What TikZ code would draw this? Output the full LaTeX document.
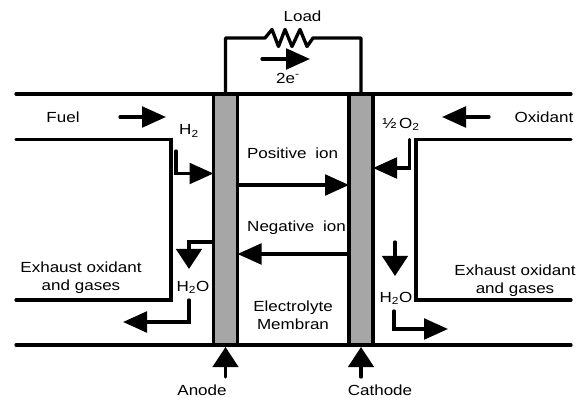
\documentclass[tikz,border=0pt]{standalone}
\usepackage{fontspec}
\setmainfont[FakeStretch=1.16]{Liberation Sans}
\usetikzlibrary{arrows.meta}
\tikzset{
  x=0.75pt,y=-0.75pt,
  wire/.style={line width=2.5pt,line cap=round,line join=miter,black},
  flow/.style={wire,-{Triangle[length=18pt,width=15.5pt]}},
  vflow/.style={wire,-{Triangle[length=15pt,width=19pt]}},
  plate/.style={draw=black,fill=black!35,line width=2.6pt,minimum width=18pt,minimum height=188.25pt,inner sep=0pt,outer sep=0pt,anchor=center},
  lbl/.style={font=\fontsize{11}{13.5}\selectfont,inner sep=0pt,align=center,text=black},
  pt/.style={coordinate}
}
\begin{document}
\begin{tikzpicture}
\useasboundingbox (0,0) rectangle (584,398);
% walls
\coordinate (tl) at (16,94); \coordinate (tr) at (571,94);
\coordinate (bl) at (16,345); \coordinate (br) at (571,345);
\coordinate (fa) at (16,139.5); \coordinate (fb) at (171,139.5); \coordinate (fc) at (171,300); \coordinate (fd) at (16,300);
\coordinate (oa) at (571,139.5); \coordinate (ob) at (416,139.5); \coordinate (oc) at (416,300); \coordinate (od) at (571,300);
\draw[wire] (tl) -- (tr);
\draw[wire] (bl) -- (br);
\draw[wire] (fa) -- (fb) -- (fc) -- (fd);
\draw[wire] (oa) -- (ob) -- (oc) -- (od);
% plates
\node[plate] (anode) at (225.5,219.5) {};
\node[plate] (cathode) at (361,219.5) {};
% load circuit
\coordinate (ra) at (265,38); \coordinate (rb) at (313,38);
\draw[wire,line join=round] (anode.north) -- (225.5,38) -- (ra)
  -- (272,29.5) -- (278.5,46.5) -- (285,29.5) -- (292,46.5) -- (300,29.5) -- (307,46.5) -- (rb)
  -- (361,38) -- (cathode.north);
% labels
\node[lbl] (load) at (302.5,16) {Load};
\node[lbl] (elec) at (288,78) {2e\textsuperscript{-}};
\node[lbl] (fuel) at (63,117) {Fuel};
\node[lbl] (hy) at (189,131) {H\textsubscript{2}};
\node[lbl] (pos) at (292.5,153) {Positive\hspace{3pt} ion};
\node[lbl] (neg) at (296.5,228) {Negative\hspace{3pt} ion};
\node[lbl] (oxy) at (401,124) {½\,O\textsubscript{2}};
\node[lbl] (oxi) at (544,117) {Oxidant};
\node[lbl] (exl) at (81,278) {Exhaust oxidant\\and gases};
\node[lbl] (exr) at (515,281) {Exhaust oxidant\\and gases};
\node[lbl] (wl) at (193,287) {H\textsubscript{2}O};
\node[lbl] (wr) at (396,298) {H\textsubscript{2}O};
\node[lbl] (mem) at (293,315) {Electrolyte\\Membran};
\node[lbl] (an) at (202,390) {Anode};
\node[lbl] (ca) at (380,390) {Cathode};
% arrows
\coordinate (a1) at (262,59); \coordinate (a2) at (310,59);
\draw[flow] (a1) -- (a2);
\coordinate (b1) at (120,117); \coordinate (b2) at (166,117);
\draw[flow] (b1) -- (b2);
\coordinate (c1) at (489,117); \coordinate (c2) at (442,117);
\draw[flow] (c1) -- (c2);
\coordinate (d1) at (176,151); \coordinate (d2) at (176,173.5);
\draw[flow] (d1) -- (d2) -- (anode.west |- d2);
\coordinate (e1) at (409.7,139.5); \coordinate (e2) at (409.7,168);
\draw[flow] (e1) -- (e2) -- (cathode.east |- e2);
\coordinate (f1) at (239,185);
\draw[flow] (anode.east |- f1) -- (cathode.west |- f1);
\coordinate (g1) at (347,254);
\draw[flow] (cathode.west |- g1) -- (anode.east |- g1);
\coordinate (h1) at (213,242); \coordinate (h2) at (189,242); \coordinate (h3) at (189,269);
\draw[vflow] (h1) -- (h2) -- (h3);
\coordinate (i1) at (189,300); \coordinate (i2) at (189,322); \coordinate (i3) at (123,322);
\draw[flow] (i1) -- (i2) -- (i3);
\coordinate (j1) at (395,242); \coordinate (j2) at (395,276);
\draw[vflow] (j1) -- (j2);
\coordinate (k1) at (394,311); \coordinate (k2) at (394,329); \coordinate (k3) at (448,329);
\draw[flow] (k1) -- (k2) -- (k3);
\coordinate (l1) at (225.5,377); \coordinate (l2) at (225.5,347);
\draw[vflow] (l1) -- (l2);
\coordinate (m1) at (361,377); \coordinate (m2) at (361,347);
\draw[vflow] (m1) -- (m2);
\end{tikzpicture}
\end{document}
